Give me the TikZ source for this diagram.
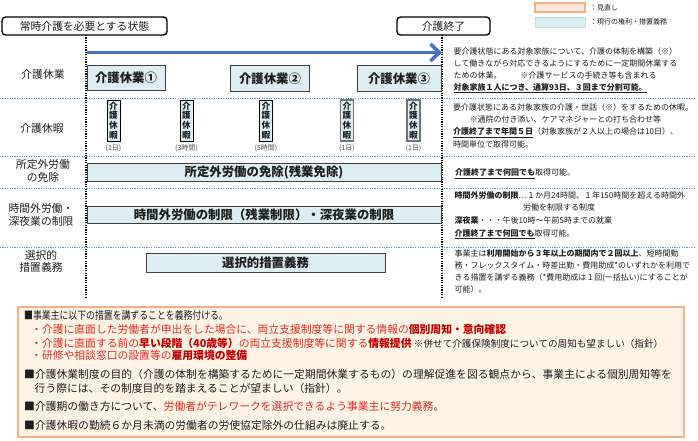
\documentclass[tikz,border=0pt]{standalone}
\usepackage{fontspec}
\setmainfont{Noto Sans CJK JP}
\usepackage{graphicx}
\usetikzlibrary{arrows.meta}
\definecolor{tealfill}{RGB}{220,238,242}
\definecolor{dotblue}{RGB}{91,155,213}
\definecolor{arrowblue}{RGB}{68,114,196}
\definecolor{orgborder}{RGB}{244,177,131}
\definecolor{orgfill}{RGB}{255,243,229}
\definecolor{legorg}{RGB}{253,233,217}
\definecolor{legteal}{RGB}{183,222,232}
\definecolor{redtxt}{RGB}{222,45,38}
\definecolor{redbold}{RGB}{192,0,0}
\definecolor{txt}{RGB}{30,30,30}
\begin{document}
\begin{tikzpicture}[x=1pt,y=-1pt,
  topbox/.style={draw=black, line width=1.4pt, rounded corners=3.5pt, fill=white, inner sep=0pt, text=txt, font=\fontsize{10.8}{12}\selectfont},
  rowlab/.style={align=center, inner sep=0pt, text=txt, font=\fontsize{10.8}{12.5}\selectfont},
  kbox/.style={draw=black!75, line width=0.8pt, fill=tealfill, inner sep=0pt, text=txt, font=\bfseries\fontsize{12.4}{14}\selectfont},
  kyuka/.style={draw=black, line width=1pt, fill=tealfill, inner sep=0pt, minimum width=13pt, minimum height=41pt, align=center, text=txt, font=\bfseries\fontsize{8.6}{9.8}\selectfont},
  kyukag/.style={kyuka, draw=black!55, line width=1.8pt},
  dayl/.style={inner sep=0pt, text=black!70, font=\fontsize{7}{8}\selectfont},
  rtext/.style={anchor=base west, inner sep=0pt, text=txt, font=\fontsize{8}{9.6}\selectfont},
  btext/.style={anchor=base west, inner sep=0pt, text=txt, font=\fontsize{10.8}{12}\selectfont},
  legtext/.style={anchor=west, inner sep=0pt, text=txt, font=\fontsize{7}{8}\selectfont},
  hdot/.style={draw=dotblue, line width=1pt, dash pattern=on 1.2pt off 1.2pt},
  vdot/.style={draw=black, line width=1.6pt, dash pattern=on 1.2pt off 1.2pt}
]
\useasboundingbox (0,0) rectangle (698,440);

% legend
\draw[draw=orgborder, line width=1.2pt, fill=legorg] (535,3) rectangle (585,12);
\draw[draw=legteal, line width=1pt, fill=tealfill] (535,17) rectangle (585,27);
\node[legtext] (leg1) at (590,8) {：見直し};
\node[legtext] (leg2) at (590,22) {：現行の権利・措置義務};

% horizontal dotted separators
\draw[hdot] (0,98) -- (696,98);
\draw[hdot] (0,156) -- (696,156);
\draw[hdot] (0,188) -- (696,188);
\draw[hdot] (0,247) -- (696,247);

% top boxes
\node[topbox, minimum width=165pt, minimum height=18pt] (start) at (84.5,26) {常時介護を必要とする状態};
\node[topbox, minimum width=93pt, minimum height=18pt] (end) at (443.5,26) {介護終了};

% vertical dotted lines
\coordinate (vl1) at (86,35);
\coordinate (vl2) at (86,297);
\coordinate (vr1) at (442,35);
\coordinate (vr2) at (442,297);
\draw[vdot] (vl1) -- (vl2);
\draw[vdot] (vr1) -- (vr2);

% blue arrow
\coordinate (arrS) at (87,52.5);
\coordinate (arrE) at (442,52.5);
\draw[arrowblue, line width=3.5pt, -{Straight Barb[length=9pt,width=17pt]}] (arrS) -- (arrE);

% row labels
\node[rowlab] (l1) at (43,74) {介護休業};
\node[rowlab] (l2) at (42,128) {介護休暇};
\node[rowlab] (l3) at (43,171) {所定外労働\\の免除};
\node[rowlab] (l4) at (41,215) {時間外労働・\\深夜業の制限};
\node[rowlab] (l5) at (41,261.5) {選択的\\措置義務};

% 介護休業 boxes
\node[kbox, minimum width=78pt, minimum height=25pt] (k1) at (126,78) {介護休業①};
\node[kbox, minimum width=79pt, minimum height=26pt] (k2) at (270,78.5) {介護休業②};
\node[kbox, minimum width=84pt, minimum height=26pt] (k3) at (399,78.5) {介護休業③};

% 介護休暇 boxes
\node[kyuka] (v1) at (113.5,120.5) {介\\護\\休\\暇};
\node[kyuka] (v2) at (186.5,120.5) {介\\護\\休\\暇};
\node[kyuka] (v3) at (266,120.5) {介\\護\\休\\暇};
\node[kyukag] (v4) at (347,120.5) {介\\護\\休\\暇};
\node[kyukag] (v5) at (413.5,120.5) {介\\護\\休\\暇};
\node[dayl] (d1) at (113.5,148) {(1日)};
\node[dayl] (d2) at (186.5,148) {(3時間)};
\node[dayl] (d3) at (266,148) {(5時間)};
\node[dayl] (d4) at (347,148) {(1日)};
\node[dayl] (d5) at (413.5,148) {(1日)};

% long boxes
\node[kbox, minimum width=354pt, minimum height=18pt] (b3) at (264,172) {所定外労働の免除(残業免除)};
\node[kbox, minimum width=354pt, minimum height=17pt] (b4) at (264,214.5) {時間外労働の制限（残業制限）・深夜業の制限};
\node[kbox, minimum width=239pt, minimum height=19pt] (b5) at (265.5,262.5) {選択的措置義務};

% right texts row 1
\node[rtext] (r1a) at (453.5,54.7) {要介護状態にある対象家族について、介護の体制を構築（※）};
\node[rtext] (r1b) at (453.5,66.5) {して働きながら対応できるようにするために一定期間休業する};
\node[rtext] (r1c) at (453.5,78.5) {ための休業。\hspace{19pt}※介護サービスの手続き等も含まれる};
\node[rtext] (r1d) at (453.5,90.3) {\underline{\textbf{対象家族１人につき、通算93日、３回まで分割可能。}}};
% row 2
\node[rtext] (r2a) at (453,110.5) {要介護状態にある対象家族の介護・世話（※）をするための休暇。};
\node[rtext] (r2b) at (469.5,122.3) {※通院の付き添い、ケアマネジャーとの打ち合わせ等};
\node[rtext] (r2c) at (453,134.5) {\underline{\textbf{介護終了まで年間５日}}（対象家族が２人以上の場合は10日）、};
\node[rtext] (r2d) at (453,147.5) {時間単位で取得可能。};
% row 3
\node[rtext] (r3a) at (455,175.5) {\underline{\textbf{介護終了まで何回でも}}取得可能。};
% row 4
\node[rtext] (r4a) at (454.5,198) {\textbf{時間外労働の制限}…１か月24時間、１年150時間を超える時間外};
\node[rtext] (r4b) at (523,210.3) {労働を制限する制度};
\node[rtext] (r4c) at (454.5,223) {\textbf{深夜業}・・・午後10時～午前5時までの就業};
\node[rtext] (r4d) at (454.5,236.3) {\underline{\textbf{介護終了まで何回でも}}取得可能。};
% row 5
\node[rtext] (r5a) at (454.5,256.3) {事業主は\textbf{利用開始から３年以上の期間内で２回以上}、短時間勤};
\node[rtext] (r5b) at (454.5,268.3) {務・フレックスタイム・時差出勤・費用助成*のいずれかを利用で};
\node[rtext] (r5c) at (454.5,280.3) {きる措置を講ずる義務（*費用助成は１回(一括払い)にすることが};
\node[rtext] (r5d) at (454.5,292.3) {可能）。};

% bottom box
\draw[draw=orgborder, line width=1.5pt, fill=orgfill] (18,307) rectangle (684,437);
\node[btext] (t1) at (24,319.5) {\scalebox{0.82}[1]{■事業主に以下の措置を講ずることを義務付ける。}};
\node[btext] (t2) at (31,333.5) {\color{redtxt}・介護に直面した労働者が申出をした場合に、両立支援制度等に関する情報の\textbf{\color{redbold}個別周知・意向確認}};
\node[btext] (t3) at (31,347.2) {\color{redtxt}・介護に直面する前の\textbf{\color{redbold}早い段階（40歳等）}の両立支援制度等に関する\textbf{\color{redbold}情報提供} {\color{txt}\fontsize{9.6}{11}\selectfont ※併せて介護保険制度についての周知も望ましい（指針）}};
\node[btext] (t4) at (31,359.5) {\color{redtxt}・研修や相談窓口の設置等の\textbf{\color{redbold}雇用環境の整備}};
\node[btext] (t5) at (24,378.5) {■介護休業制度の目的（介護の体制を構築するために一定期間休業するもの）の理解促進を図る観点から、事業主による個別周知等を};
\node[btext] (t6) at (34.5,392.5) {行う際には、その制度目的を踏まえることが望ましい（指針）。};
\node[btext] (t7) at (24,410.5) {■介護期の働き方について、{\color{redtxt}労働者がテレワークを選択できるよう事業主に努力義務}。};
\node[btext] (t8) at (24,429.5) {■介護休暇の勤続６か月未満の労働者の労使協定除外の仕組みは廃止する。};
\end{tikzpicture}
\end{document}
